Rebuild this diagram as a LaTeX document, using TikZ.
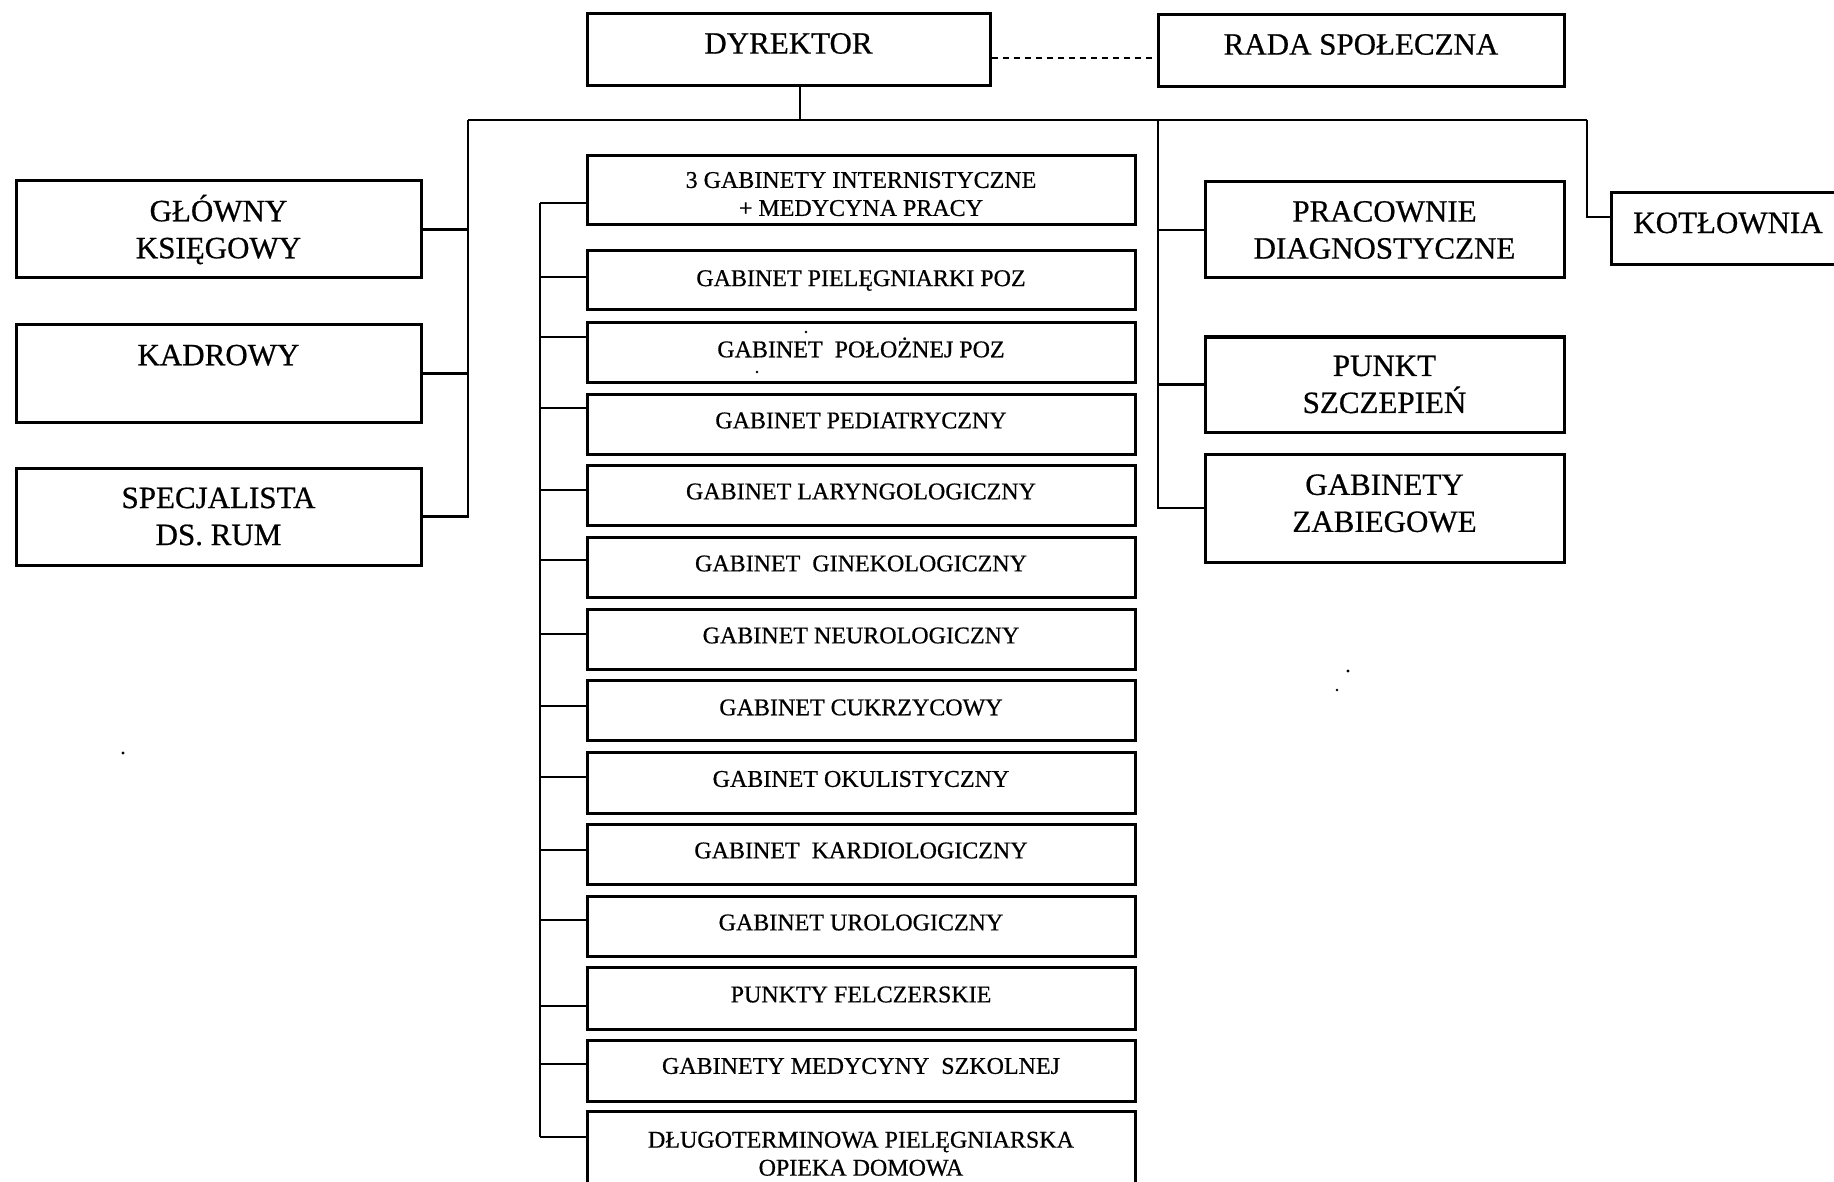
\documentclass[tikz,border=0pt]{standalone}
\usepackage{fontspec}
\usepackage{graphicx}
\setmainfont{Liberation Serif}[FakeBold=0.6]
\usetikzlibrary{calc}
\newcommand{\up}[2]{\raisebox{#1}[\height][\depth]{#2}}
\newcommand{\twoline}[3]{\raisebox{#1}[\height][\depth]{\begin{tabular}{@{}c@{}}#2\\#3\end{tabular}}}
\begin{document}
\begin{tikzpicture}[x=1pt,y=-1pt,
  box/.style={draw, line width=3pt, inner sep=0pt, align=center},
  big/.style={font=\fontsize{31}{37}\selectfont},
  small/.style={font=\fontsize{24}{28}\selectfont},
  midbox/.style={box, small, minimum width=548},
  conn/.style={line width=2.5pt},
  dotline/.style={line width=2.2pt, dash pattern=on 6pt off 5pt},
  speck/.style={fill=black}
]
\useasboundingbox (0,0) rectangle (1834,1182);
\fill[white] (0,0) rectangle (1834,1182);
\clip (0,0) rectangle (1834,1182);

% top
\node[box,big,minimum width=403,minimum height=72] (dyr) at (788.5,50) {\up{6.5pt}{DYREKTOR}};
\node[box,big,minimum width=406,minimum height=72] (rada) at (1361,51) {\up{6.5pt}{RADA SPOŁECZNA}};

% left column
\node[box,big,minimum width=405,minimum height=97] (gk) at (218.5,229.5) {GŁÓWNY\\KSIĘGOWY};
\node[box,big,minimum width=405,minimum height=97] (kad) at (218.5,373.5) {KADROWY\\[0pt]\phantom{K}};
\node[box,big,minimum width=405,minimum height=97] (spec) at (218.5,516.5) {SPECJALISTA\\DS. RUM};

% right column
\node[box,big,minimum width=359,minimum height=96] (pd) at (1384.5,230) {PRACOWNIE\\DIAGNOSTYCZNE};
\node[box,big,minimum width=359,minimum height=95] (ps) at (1384.5,384.5) {PUNKT\\SZCZEPIEŃ};
\node[box,big,minimum width=359,minimum height=108] (gz) at (1384.5,508) {\twoline{2pt}{GABINETY}{ZABIEGOWE}};
\node[box,big,minimum width=234,minimum height=72] (kot) at (1728,229) {\up{6pt}{KOTŁOWNIA}};

% middle column
\node[midbox,minimum height=69] (m1) at (861,190.5) {\twoline{-5.8pt}{3 GABINETY INTERNISTYCZNE}{+ MEDYCYNA PRACY}};
\node[midbox,minimum height=59] (m2) at (861,280.5) {GABINET PIELĘGNIARKI POZ};
\node[midbox,minimum height=59] (m3) at (861,352.5) {\up{5pt}{GABINET\ \ POŁOŻNEJ POZ}};
\node[midbox,minimum height=60] (m4) at (861,424) {\up{3.5pt}{GABINET PEDIATRYCZNY}};
\node[midbox,minimum height=60] (m5) at (861,495) {\up{3.5pt}{GABINET LARYNGOLOGICZNY}};
\node[midbox,minimum height=60] (m6) at (861,567) {\up{3.5pt}{GABINET\ \ GINEKOLOGICZNY}};
\node[midbox,minimum height=60] (m7) at (861,639) {\up{3.5pt}{GABINET NEUROLOGICZNY}};
\node[midbox,minimum height=60] (m8) at (861,710) {\up{2.5pt}{GABINET CUKRZYCOWY}};
\node[midbox,minimum height=61] (m9) at (861,782.5) {\up{3.5pt}{GABINET OKULISTYCZNY}};
\node[midbox,minimum height=60] (m10) at (861,854) {\up{3.5pt}{GABINET\ \ KARDIOLOGICZNY}};
\node[midbox,minimum height=60] (m11) at (861,926) {\up{3.5pt}{GABINET UROLOGICZNY}};
\node[midbox,minimum height=62] (m12) at (861,998) {\up{3.5pt}{PUNKTY FELCZERSKIE}};
\node[midbox,minimum height=61] (m13) at (861,1070.5) {\up{4.5pt}{GABINETY MEDYCYNY\ \ SZKOLNEJ}};
\node[midbox,minimum height=78] (m14) at (861,1150) {\twoline{-6pt}{DŁUGOTERMINOWA PIELĘGNIARSKA}{OPIEKA DOMOWA}};

% bus coordinates
\coordinate (lbus) at (468,120);
\coordinate (rbus) at (1158,120);
\coordinate (kbus) at (1587,120);
\coordinate (mtop) at (540,203);
\coordinate (mbot) at (540,1137);

% connectors
\draw[dotline] (dyr.east |- 0,58) -- (rada.west |- 0,58);
\draw[conn] (dyr.south -| 800,0) -- (800,120);
\draw[conn] (lbus) -- (kbus);
\draw[conn] (lbus) |- (spec.east);
\draw[conn] (gk.east) -- (gk.east -| lbus);
\draw[conn] (kad.east) -- (kad.east -| lbus);
\draw[conn] (rbus) |- (gz.west);
\draw[conn] (pd.west) -- (pd.west -| rbus);
\draw[conn] (ps.west) -- (ps.west -| rbus);
\draw[conn] (kbus) |- ($(kot.west)+(0,-12)$);
\draw[conn] (mtop) -- (mbot);
\foreach \i/\yy in {1/203,2/277,3/337,4/408,5/490,6/560,7/634,8/706,9/777,10/850,11/920,12/1006,13/1064,14/1137}
  \draw[conn] (540,\yy) -- (m\i.west |- 540,\yy);

% scan specks
\fill[speck] (1348,671) circle (1.6);
\fill[speck] (1337,690) circle (1.4);
\fill[speck] (123,753) circle (1.6);
\fill[speck] (806,332) circle (1.3);
\fill[speck] (757,372) circle (1.3);
\end{tikzpicture}
\end{document}
